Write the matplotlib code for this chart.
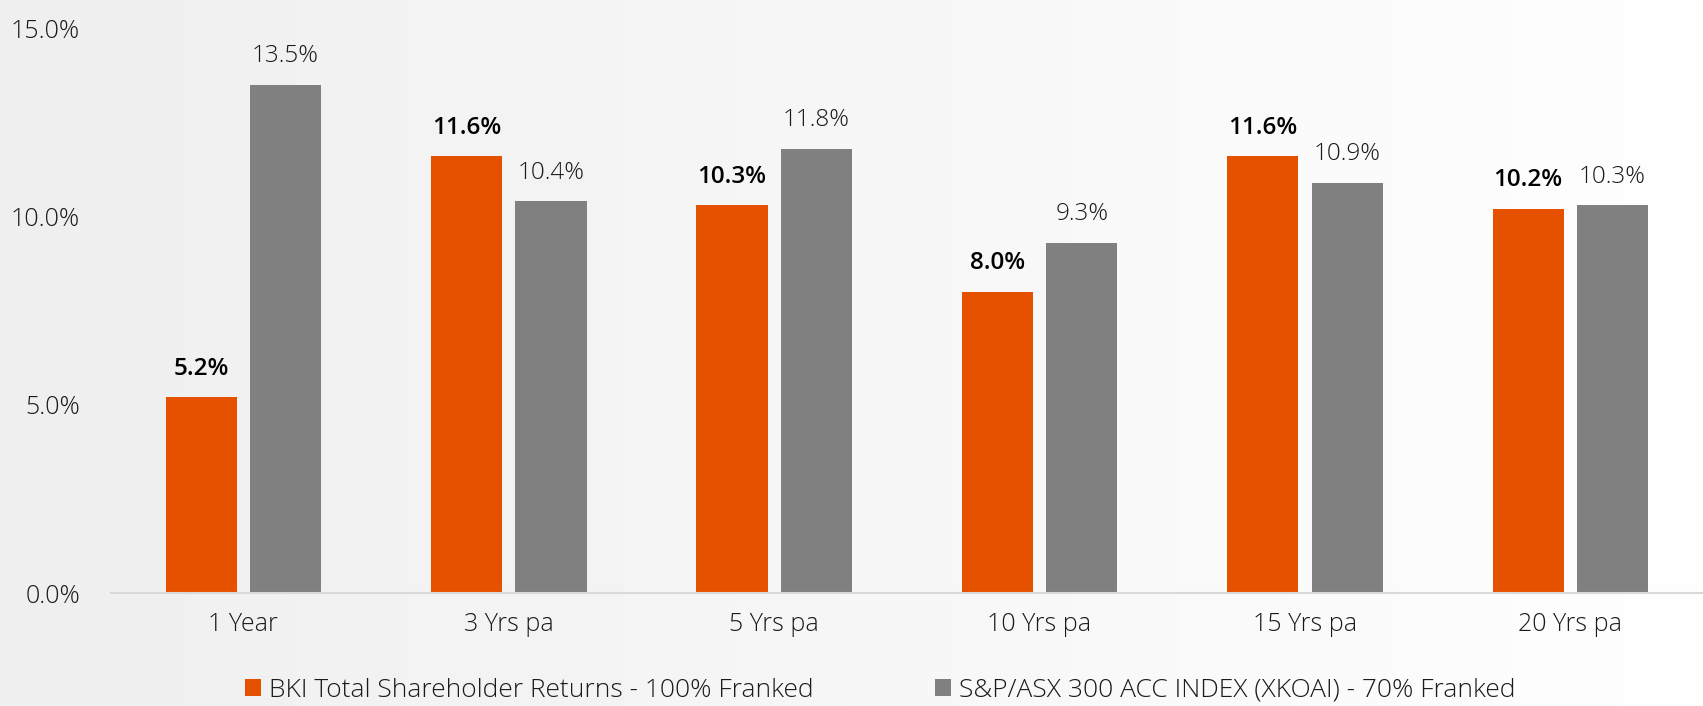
import numpy as np
import matplotlib.pyplot as plt

categories = ["1 Year", "3 Yrs pa", "5 Yrs pa", "10 Yrs pa", "15 Yrs pa", "20 Yrs pa"]
bki = [5.2, 11.6, 10.3, 8.0, 11.6, 10.2]
asx = [13.5, 10.4, 11.8, 9.3, 10.9, 10.3]
series_names = ["BKI Total Shareholder Returns - 100% Franked",
                "S&P/ASX 300 ACC INDEX (XKOAI) - 70% Franked"]
y_ticks = [0, 5, 10, 15]

orange = "#E65100"
grey = "#808080"

plt.rcParams['font.family'] = ['Open Sans', 'DejaVu Sans']

fig = plt.figure(figsize=(17.03, 7.06), dpi=100)
fig.patch.set_facecolor("#f7f7f7")

# soft background shading
bg = fig.add_axes([0, 0, 1, 1], zorder=-10)
grad = np.linspace(0.935, 0.995, 256).reshape(1, -1)
bg.imshow(grad, aspect="auto", cmap="gray", vmin=0, vmax=1, extent=[0, 1, 0, 1])
bg.axis("off")

ax = fig.add_axes([0.065, 0.16, 0.935, 0.80])
ax.patch.set_alpha(0)

x = np.arange(len(categories))
w = 0.268
off = 0.159
b1 = ax.bar(x - off, bki, w, color=orange, label=series_names[0])
b2 = ax.bar(x + off, asx, w, color=grey, label=series_names[1])

for r, v in zip(b1, bki):
    ax.annotate(f"{v:.1f}%", (r.get_x() + r.get_width() / 2, v), xytext=(0, 12),
                textcoords="offset points", ha="center", va="bottom",
                fontsize=17.5, fontweight="semibold", color="black")
for r, v in zip(b2, asx):
    ax.annotate(f"{v:.1f}%", (r.get_x() + r.get_width() / 2, v), xytext=(0, 12),
                textcoords="offset points", ha="center", va="bottom",
                fontsize=17.5, fontweight="light", color="#1a1a1a")

ax.set_xlim(-0.5, len(categories) - 0.5)
ax.set_ylim(0, 15)
ax.set_yticks(y_ticks)
ax.set_yticklabels([f"{t:.1f}%" for t in y_ticks], fontsize=18, fontweight="light", color="#1a1a1a")
ax.set_xticks(x)
ax.set_xticklabels(categories, fontsize=18, fontweight="light", color="#1a1a1a")
ax.tick_params(axis="both", length=0)
ax.tick_params(axis="y", pad=22)
ax.tick_params(axis="x", pad=14)

for s in ["top", "right", "left"]:
    ax.spines[s].set_visible(False)
ax.spines["bottom"].set_color("#d9d9d9")
ax.spines["bottom"].set_linewidth(1.5)

leg = fig.legend(handles=[b1, b2], loc="center", bbox_to_anchor=(0.517, 0.022),
                 ncol=2, frameon=False, fontsize=19, handlelength=0.6, handleheight=0.6,
                 handletextpad=0.3, columnspacing=4.6)
for t in leg.get_texts():
    t.set_fontweight("light")
    t.set_color("#1a1a1a")

fig.savefig("out.png", dpi=100, facecolor=fig.get_facecolor())
